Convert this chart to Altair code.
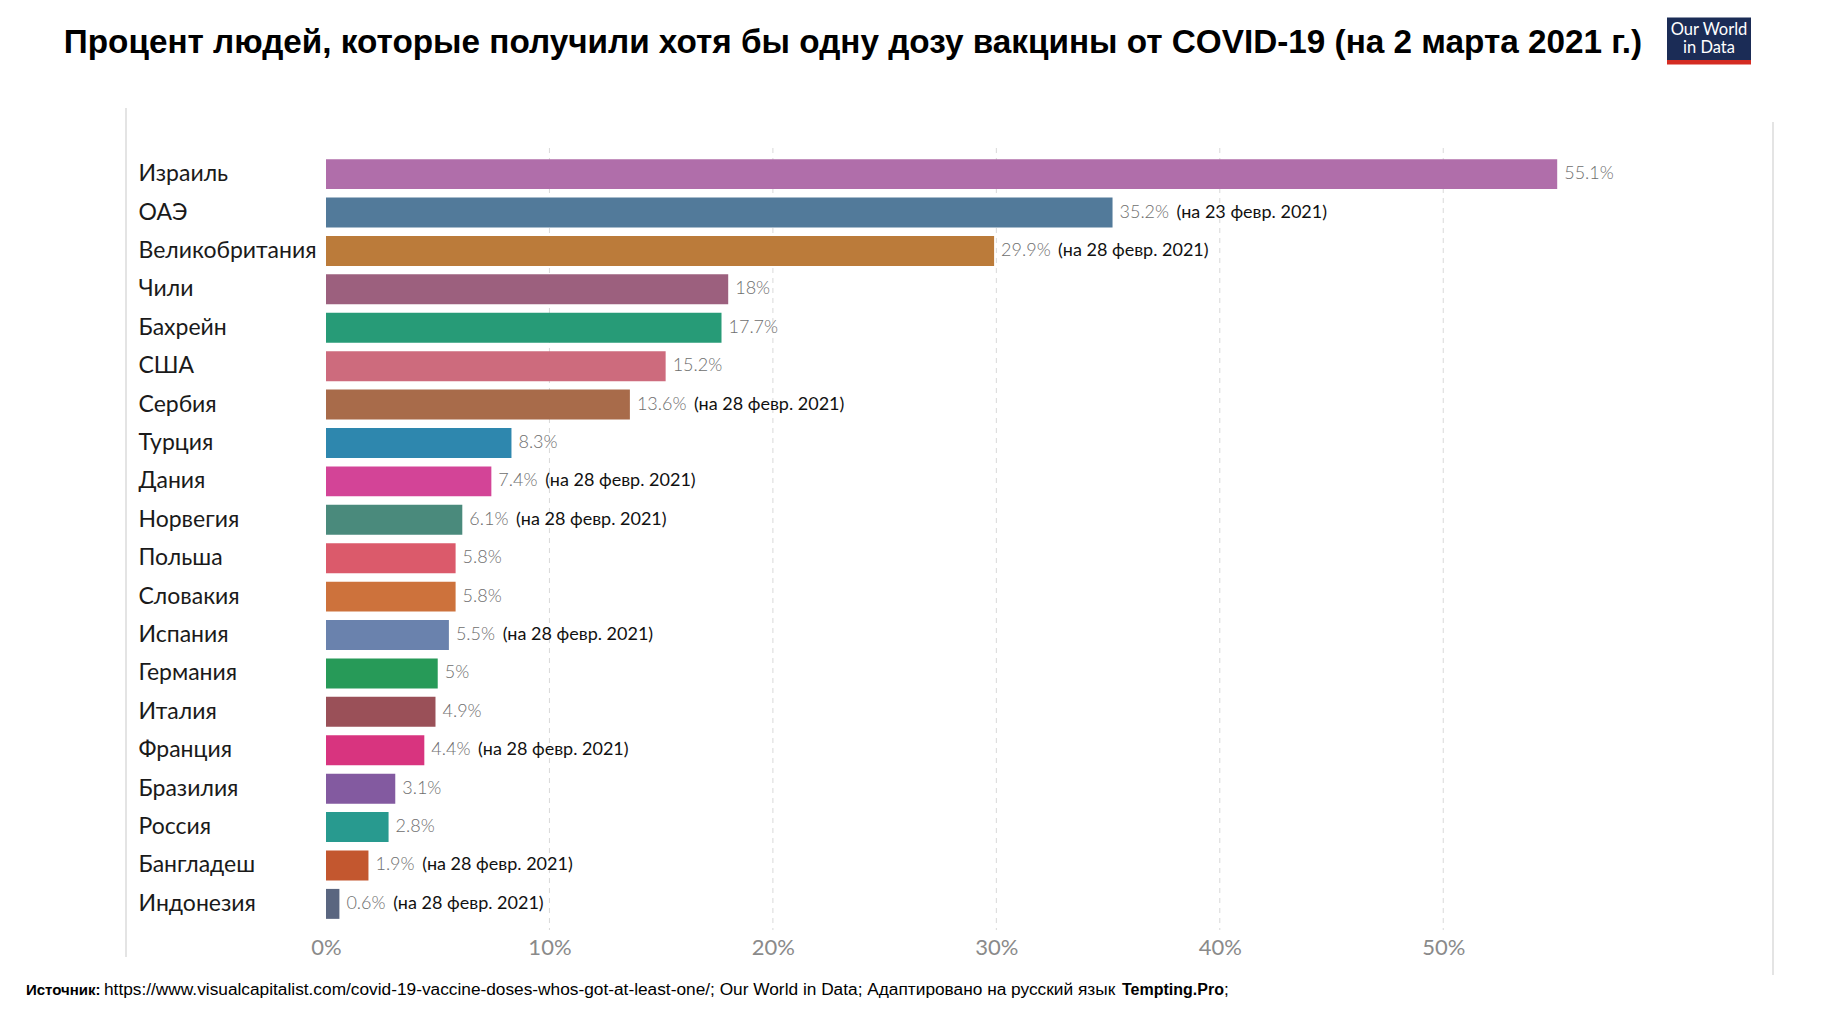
import altair as alt
import pandas as pd

title_text = "Процент людей, которые получили хотя бы одну дозу вакцины от COVID-19 (на 2 марта 2021 г.)"

countries = ["Израиль", "ОАЭ", "Великобритания", "Чили", "Бахрейн", "США", "Сербия",
             "Турция", "Дания", "Норвегия", "Польша", "Словакия", "Испания", "Германия",
             "Италия", "Франция", "Бразилия", "Россия", "Бангладеш", "Индонезия"]
values = [55.1, 35.2, 29.9, 18, 17.7, 15.2, 13.6, 8.3, 7.4, 6.1, 5.8, 5.8, 5.5, 5, 4.9,
          4.4, 3.1, 2.8, 1.9, 0.6]
value_labels = ["55.1%", "35.2%", "29.9%", "18%", "17.7%", "15.2%", "13.6%", "8.3%", "7.4%",
                "6.1%", "5.8%", "5.8%", "5.5%", "5%", "4.9%", "4.4%", "3.1%", "2.8%",
                "1.9%", "0.6%"]
N28 = "(на 28 февр. 2021)"
notes = ["", "(на 23 февр. 2021)", N28, "", "", "", N28, "", N28, N28, "", "", N28, "", "",
         N28, "", "", N28, N28]
colors = ["#b06eaa", "#527a9a", "#bb7b3a", "#9c607e", "#279b77", "#cd6b7d", "#a86b4a",
          "#2e87ae", "#d34497", "#4a8a7c", "#db5a6b", "#cd723c", "#6a82ad", "#279a58",
          "#9a5058", "#d8347f", "#835aa0", "#289a8f", "#c3572f", "#5a6680"]
x_ticks = [0, 10, 20, 30, 40, 50]
grid_ticks = [10, 20, 30, 40, 50]

footer_bold_1 = "Источник:"
footer_main = ("https://www.visualcapitalist.com/covid-19-vaccine-doses-whos-got-at-least-one/; "
               "Our World in Data; Адаптировано на русский язык")
footer_bold_2 = "Tempting.Pro"
footer_end = ";"

W, H, XMAX = 1296, 782, 58
PX = W / XMAX
FONT = "Lato"
FF = "'Liberation Sans', Arial, sans-serif"
DY = -5  # shift of the decorations relative to the plot origin

df = pd.DataFrame({"country": countries, "value": values, "label": value_labels,
                   "note": notes, "color": colors})

x_scale = alt.Scale(domain=[0, XMAX], nice=False, zero=True)
y_enc = alt.Y("country:N", sort=countries,
              scale=alt.Scale(paddingInner=0.22, paddingOuter=0.29),
              axis=alt.Axis(title=None, labelAlign="left", labelPadding=188, ticks=False,
                            domain=False, labelFontSize=23, labelFont=FONT,
                            labelColor="#1a1a1a"))

grid = alt.Chart(pd.DataFrame({"tick": grid_ticks})).mark_rule(
    color="#d9d9d9", strokeDash=[5, 5], strokeWidth=1
).encode(x=alt.X("tick:Q", scale=x_scale))

base = alt.Chart(df)
bars = base.mark_bar().encode(
    x=alt.X("value:Q", scale=x_scale,
            axis=alt.Axis(values=x_ticks, labelExpr="datum.value + '%'", grid=False,
                          ticks=False, domain=False, labelFontSize=22, labelFont=FONT,
                          labelColor="#8a8a8a", labelPadding=7, labelFlush=False,
                          labelAlign="center", title=None)),
    y=y_enc,
    color=alt.Color("color:N", scale=None),
)
vlabels = base.mark_text(align="left", baseline="middle", dx=7, font=FONT, fontSize=18,
                         fontWeight=300, color="#6e6e6e").encode(
    x=alt.X("value:Q"), y=y_enc, text="label:N")
nlabels = base.transform_filter("datum.note != ''").transform_calculate(
    nx=f"datum.value + (13 + 10.2*length(datum.label))/{PX}"
).mark_text(align="left", baseline="middle", font=FONT, fontSize=18,
            color="#111111").encode(x=alt.X("nx:Q"), y=y_enc, text="note:N")

one = pd.DataFrame({"a": [0]})
title = alt.Chart(pd.DataFrame({"t": [title_text]})).mark_text(
    font=FF, fontSize=33.3, fontWeight="bold", color="#000000", align="center",
    baseline="middle"
).encode(x=alt.value(527), y=alt.value(-100 + DY), text="t:N")

logo_bg = alt.Chart(one).mark_rect(color="#1b2c56").encode(
    x=alt.value(1341), x2=alt.value(1425), y=alt.value(-125.5 + DY), y2=alt.value(-83 + DY))
logo_red = alt.Chart(one).mark_rect(color="#d42b22").encode(
    x=alt.value(1341), x2=alt.value(1425), y=alt.value(-83 + DY), y2=alt.value(-78.5 + DY))
logo_t = alt.Chart(pd.DataFrame({"t": ["Our World", "in Data"],
                                 "yy": [-113 + DY, -95 + DY]})).mark_text(
    font=FONT, fontSize=16.5, color="white", align="center", baseline="middle"
).encode(x=alt.value(1383), y=alt.Y("yy:Q", scale=None), text="t:N")

frame_l = alt.Chart(one).mark_rule(color="#e4e4e4", strokeWidth=2).encode(
    x=alt.value(-200), y=alt.value(-35 + DY), y2=alt.value(814 + DY))
frame_r = alt.Chart(one).mark_rule(color="#e4e4e4", strokeWidth=2).encode(
    x=alt.value(1447), y=alt.value(-21 + DY), y2=alt.value(832 + DY))

FY = 847 + DY
foot1 = alt.Chart(pd.DataFrame({"t": [footer_bold_1]})).mark_text(
    font=FF, fontSize=15, fontWeight="bold", color="#000", align="left", baseline="middle"
).encode(x=alt.value(-300), y=alt.value(FY), text="t:N")
foot2 = alt.Chart(pd.DataFrame({"t": [footer_main]})).mark_text(
    font=FF, fontSize=17.3, color="#000", align="left", baseline="middle"
).encode(x=alt.value(-222), y=alt.value(FY), text="t:N")
foot3 = alt.Chart(pd.DataFrame({"t": [footer_bold_2]})).mark_text(
    font=FF, fontSize=16, fontWeight="bold", color="#000", align="left", baseline="middle"
).encode(x=alt.value(796), y=alt.value(FY), text="t:N")
foot4 = alt.Chart(pd.DataFrame({"t": [footer_end]})).mark_text(
    font=FF, fontSize=17, color="#000", align="left", baseline="middle"
).encode(x=alt.value(898), y=alt.value(FY), text="t:N")

chart = alt.layer(
    grid, bars, vlabels, nlabels, title, logo_bg, logo_red, logo_t,
    frame_l, frame_r, foot1, foot2, foot3, foot4
).properties(
    width=W, height=H,
    background="white",
    autosize=alt.AutoSizeParams(type="none"),
    padding={"left": 318, "top": 140, "right": 196, "bottom": 72},
).configure_view(stroke=None)

chart.save("out.html", embed_options={"renderer": "svg", "actions": False})
